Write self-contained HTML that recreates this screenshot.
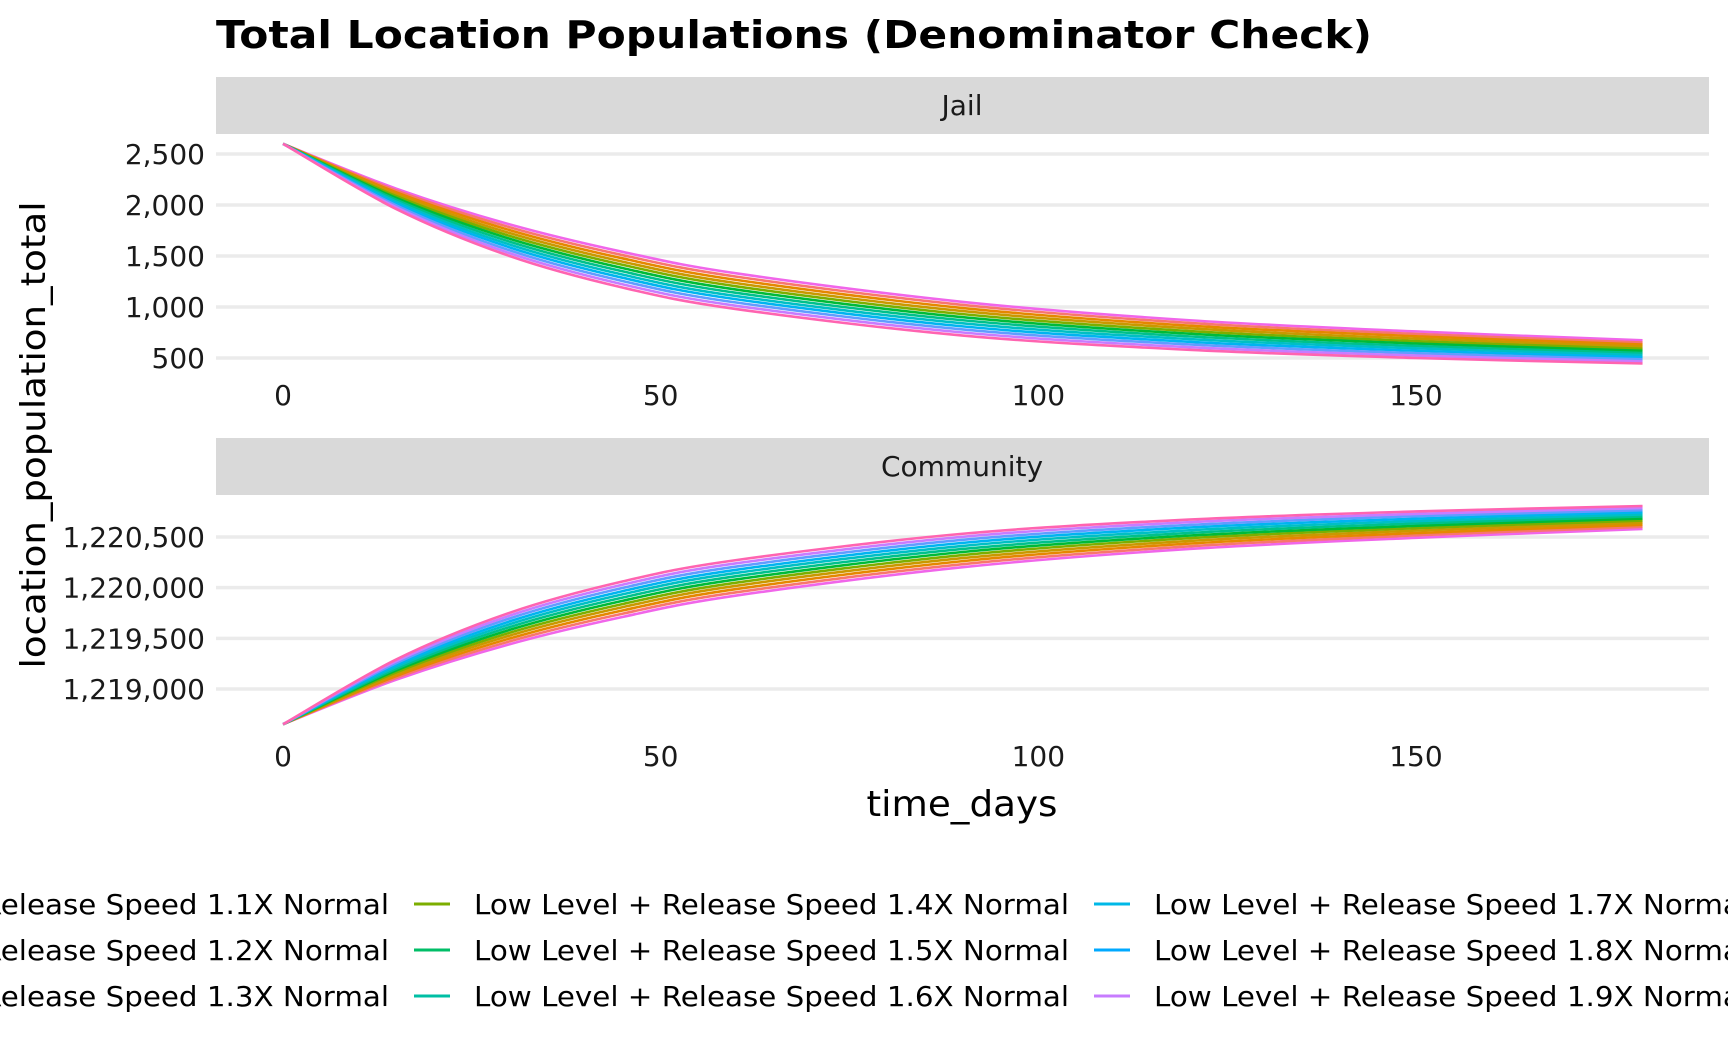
<!DOCTYPE html>
<html><head><meta charset="utf-8"><style>
html,body{margin:0;padding:0;background:#fff;}
svg{display:block;font-family:"DejaVu Sans","Liberation Sans",sans-serif;}
</style></head><body>
<svg id="chart" width="1728" height="1056" viewBox="0 0 1728 1056">
<text x="216" y="48" font-size="38" font-weight="bold" textLength="1156" lengthAdjust="spacingAndGlyphs">Total Location Populations (Denominator Check)</text>
<text transform="translate(45,435) rotate(-90)" text-anchor="middle" font-size="34" textLength="467" lengthAdjust="spacingAndGlyphs">location_population_total</text>
<text x="962" y="816" text-anchor="middle" font-size="36" textLength="191" lengthAdjust="spacingAndGlyphs">time_days</text>
<g id="panels"></g>
<g id="legend"></g>
</svg>
<script>
const days = [0, 15, 30, 45, 60, 90, 120, 150, 180];
const seriesColors = ["#F066EA","#F8766D","#E58700","#C99800","#7CAE00","#00BA38","#00C08B","#00BFC4","#00B4F0","#619CFF","#C77CFF","#FF64B0"];
const jail0 = [2600,2160,1810,1540,1330,1050,870,760,673];
const jail1 = [2600,2142,1782,1508,1298,1020,844,736,652];
const jail2 = [2600,2124,1754,1476,1266,990,817,713,632];
const jail3 = [2600,2105,1725,1444,1234,960,791,689,611];
const jail4 = [2600,2087,1697,1413,1203,930,764,665,590];
const jail5 = [2600,2069,1669,1381,1171,900,738,642,570];
const jail6 = [2600,2051,1641,1349,1139,870,712,618,549];
const jail7 = [2600,2033,1613,1317,1107,840,686,595,529];
const jail8 = [2600,2015,1585,1286,1076,810,659,571,508];
const jail9 = [2600,1996,1556,1254,1044,780,633,547,487];
const jail10 = [2600,1978,1528,1222,1012,750,606,524,467];
const jail11 = [2600,1960,1500,1190,980,720,580,500,446];
const comm0 = [1218652,1219092,1219442,1219712,1219922,1220202,1220382,1220492,1220579];
const comm1 = [1218652,1219110,1219470,1219744,1219954,1220232,1220408,1220516,1220600];
const comm2 = [1218652,1219128,1219498,1219776,1219986,1220262,1220435,1220539,1220620];
const comm3 = [1218652,1219147,1219527,1219808,1220018,1220292,1220461,1220563,1220641];
const comm4 = [1218652,1219165,1219555,1219839,1220049,1220322,1220488,1220587,1220662];
const comm5 = [1218652,1219183,1219583,1219871,1220081,1220352,1220514,1220610,1220682];
const comm6 = [1218652,1219201,1219611,1219903,1220113,1220382,1220540,1220634,1220703];
const comm7 = [1218652,1219219,1219639,1219935,1220145,1220412,1220566,1220657,1220723];
const comm8 = [1218652,1219237,1219667,1219966,1220176,1220442,1220593,1220681,1220744];
const comm9 = [1218652,1219256,1219696,1219998,1220208,1220472,1220619,1220705,1220765];
const comm10 = [1218652,1219274,1219724,1220030,1220240,1220502,1220646,1220728,1220785];
const comm11 = [1218652,1219292,1219752,1220062,1220272,1220532,1220672,1220752,1220806];
const jailSeries = [jail0,jail1,jail2,jail3,jail4,jail5,jail6,jail7,jail8,jail9,jail10,jail11];
const commSeries = [comm0,comm1,comm2,comm3,comm4,comm5,comm6,comm7,comm8,comm9,comm10,comm11];
const xTicks = [0, 50, 100, 150];
const jailYTicks = [2500, 2000, 1500, 1000, 500];
const jailYLabels = ["2,500","2,000","1,500","1,000","500 "];
const commYTicks = [1220500, 1220000, 1219500, 1219000];
const commYLabels = ["1,220,500","1,220,000","1,219,500","1,219,000"];
const legendLabels = ["Low Level + Release Speed 1.1X Normal","Low Level + Release Speed 1.2X Normal","Low Level + Release Speed 1.3X Normal","Low Level + Release Speed 1.4X Normal","Low Level + Release Speed 1.5X Normal","Low Level + Release Speed 1.6X Normal","Low Level + Release Speed 1.7X Normal","Low Level + Release Speed 1.8X Normal","Low Level + Release Speed 1.9X Normal"];
const legendColors = ["#F8766D","#E58700","#C99800","#7CAE00","#00BE67","#00BFA4","#00B8E7","#00A9FF","#C77CFF"];

const NS = "http://www.w3.org/2000/svg";
const xScale = d => 283 + d * 7.553;
const jailY = v => 154 + (2500 - v) * 0.102;
const commY = v => 537 + (1220500 - v) * (152 / 1500);

function mk(tag, attrs, parent) {
  const e = document.createElementNS(NS, tag);
  for (const k in attrs) e.setAttribute(k, attrs[k]);
  parent.appendChild(e);
  return e;
}
function smoothPath(pts) {
  let d = "M" + pts[0][0] + "," + pts[0][1];
  for (let i = 0; i < pts.length - 1; i++) {
    const p0 = pts[Math.max(0, i - 1)], p1 = pts[i], p2 = pts[i + 1], p3 = pts[Math.min(pts.length - 1, i + 2)];
    const c1x = p1[0] + (p2[0] - p0[0]) / 6, c1y = p1[1] + (p2[1] - p0[1]) / 6;
    const c2x = p2[0] - (p3[0] - p1[0]) / 6, c2y = p2[1] - (p3[1] - p1[1]) / 6;
    d += " C" + c1x + "," + c1y + " " + c2x + "," + c2y + " " + p2[0] + "," + p2[1];
  }
  return d;
}
const panels = document.getElementById("panels");
function panel(name, stripTop, stripLabel, yTicks, yLabels, yFn, series, xLabelY) {
  const g = mk("g", {}, panels);
  
  
  const strip = mk("rect", {x:216, y:stripTop, width:1493, height:57, fill:"#D9D9D9"}, g);
  
  
  const st = mk("text", {x:962, y:stripTop + 38, "text-anchor":"middle", "font-size":28, fill:"#1A1A1A"}, g);
  st.textContent = stripLabel;
  
  
  yTicks.forEach((v, i) => {
    const gl = mk("line", {x1:216, x2:1709, y1:yFn(v), y2:yFn(v), stroke:"#EBEBEB", "stroke-width":3.5}, g);
    
    
    const t = mk("text", {x:205, y:yFn(v) + 10, "text-anchor":"end", "font-size":28, fill:"#1A1A1A", "xml:space":"preserve"}, g);
    t.textContent = yLabels[i];
    
    
  });
  xTicks.forEach(d => {
    const t = mk("text", {x:xScale(d), y:xLabelY + 10, "text-anchor":"middle", "font-size":28, fill:"#1A1A1A"}, g);
    t.textContent = d;
    
    
  });
  series.forEach((vals, si) => {
    const pts = vals.map((v, i) => [xScale(days[i]), yFn(v)]);
    const p = mk("path", {d:smoothPath(pts), fill:"none", stroke:seriesColors[si], "stroke-width":2.6}, g);
    
    
  });
}
panel("jail", 77, "Jail", jailYTicks, jailYLabels, jailY, jailSeries, 395);
panel("community", 438, "Community", commYTicks, commYLabels, commY, commSeries, 756);

const legend = document.getElementById("legend");


const colText = [-206, 474, 1154];
const rowY = [904, 950, 996];
legendLabels.forEach((lab, i) => {
  const c = Math.floor(i / 3), r = i % 3;
  const g = mk("g", {}, legend);
  
  
  const k = mk("line", {x1:colText[c] - 60, x2:colText[c] - 24, y1:rowY[r], y2:rowY[r], stroke:legendColors[i], "stroke-width":3}, g);
  
  
  const t = mk("text", {x:colText[c], y:rowY[r] + 10, "font-size":28, fill:"#000", textLength:595, lengthAdjust:"spacingAndGlyphs"}, g);
  t.textContent = lab;
  
  
});
</script>
</body></html>
